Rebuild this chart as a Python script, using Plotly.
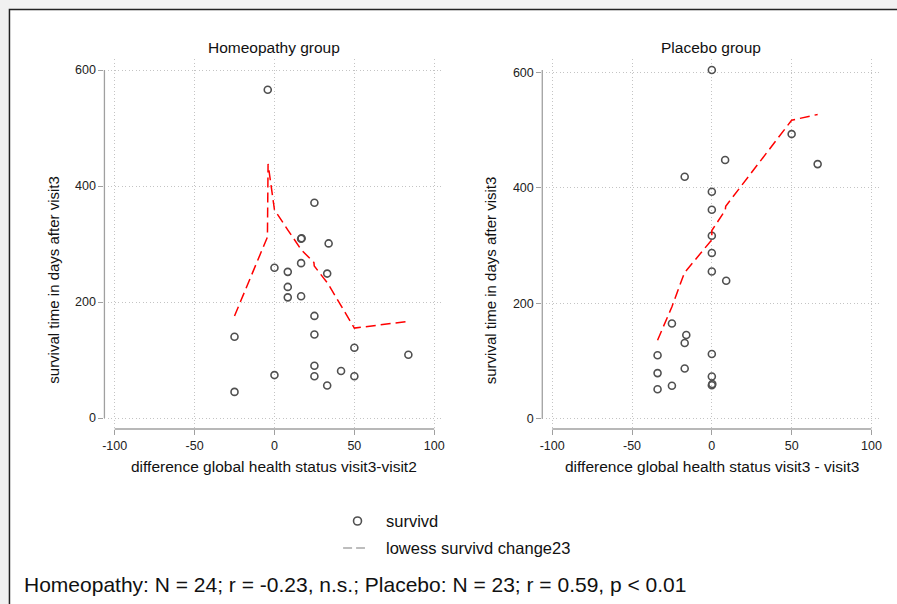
import plotly.graph_objects as go

# ---------------- data ----------------
homeo_change = [-25, -25, -4.2, 0, 0, 8.33, 8.33, 8.33, 16.67, 17.0, 16.67, 16.67,
                25, 25, 25, 25, 25, 33.9, 33.0, 33.0, 41.67, 50, 50, 83.8]
homeo_surv = [140, 45, 566, 259, 74, 252, 226, 208, 309, 310, 267, 210,
              371, 176, 144, 90, 72, 301, 249, 56, 81, 121, 72, 109]

placebo_change = [0, 0, 0, 0, 0, 0, 0, 0, 0, 0.3, 50, 8.33, 66.3,
                  -17.0, -17.0, -17.0, -16.0, 9.0, -25, -25, -34, -34, -34]
placebo_surv = [604, 393, 362, 317, 287, 255, 112, 73, 58, 60, 493, 448, 441,
                419, 131, 87, 145, 239, 165, 57, 110, 79, 51]

homeo_lowess_x = [-25, -4.4, -4.0, 0, 8.4, 16.8, 24.7, 24.9, 33.4, 50, 85]
homeo_lowess_y = [176, 312, 438, 359, 324, 290, 268, 262, 232, 155, 167]

placebo_lowess_x = [-34, -25, -17.0, -16.2, 0, 0, 8.4, 8.7, 50, 66.3]
placebo_lowess_y = [136, 194, 254, 256, 310, 326, 361, 368, 517, 527]

x_ticks = [-100, -50, 0, 50, 100]
x_tick_text = ["-100", "-50", "0", "50", "100"]
y_ticks = [0, 200, 400, 600]
y_tick_text = ["0", "200", "400", "600"]

panel_titles = ["Homeopathy group", "Placebo group"]
x_titles = ["difference global health status visit3-visit2",
            "difference global health status visit3 - visit3"]
y_title = "survival time in days after visit3"
legend_labels = ["survivd", "lowess survivd change23"]
caption = "Homeopathy: N = 24; r = -0.23, n.s.; Placebo: N = 23; r = 0.59, p < 0.01"

# ---------------- layout helpers ----------------
W, H = 897, 604
FONT = "Liberation Sans, Arial, sans-serif"


def PX(p):
    return p / W


def PY(p):
    return 1 - p / H


MARKER = dict(symbol="circle-open", size=7, color="#505050",
              line=dict(width=1.6, color="#505050"))
LOWESS = dict(color="#ff0000", width=1.5, dash="10px,5px")

fig = go.Figure()
fig.add_trace(go.Scatter(x=homeo_change, y=homeo_surv, mode="markers",
                         marker=MARKER, xaxis="x", yaxis="y", showlegend=False))
fig.add_trace(go.Scatter(x=homeo_lowess_x, y=homeo_lowess_y, mode="lines",
                         line=LOWESS, xaxis="x", yaxis="y", showlegend=False))
fig.add_trace(go.Scatter(x=placebo_change, y=placebo_surv, mode="markers",
                         marker=MARKER, xaxis="x2", yaxis="y2", showlegend=False))
fig.add_trace(go.Scatter(x=placebo_lowess_x, y=placebo_lowess_y, mode="lines",
                         line=LOWESS, xaxis="x2", yaxis="y2", showlegend=False))

grid = dict(showgrid=True, gridcolor="#c4c4c4", griddash="1px,2.5px", gridwidth=1,
            zeroline=False, showline=False, ticks="outside", ticklen=5,
            tickwidth=1.2, tickcolor="#a0a0a0",
            tickfont=dict(family=FONT, size=12.5, color="#222222"))

fig.update_layout(
    width=W, height=H, autosize=False,
    margin=dict(l=0, r=0, t=0, b=0),
    paper_bgcolor="#f1f1f1", plot_bgcolor="rgba(0,0,0,0)",
    showlegend=False,
    font=dict(family=FONT, color="#111111"),
    xaxis=dict(domain=[PX(102), PX(443)], range=[-106.4, 105.8],
               tickvals=x_ticks, ticktext=x_tick_text, anchor="y", **grid),
    yaxis=dict(domain=[PY(429), PY(59)], range=[-18.97, 618.97],
               tickvals=y_ticks, ticktext=y_tick_text, anchor="x", **grid),
    xaxis2=dict(domain=[PX(542.3), PX(881.7)], range=[-106.23, 105.23],
                tickvals=x_ticks, ticktext=x_tick_text, anchor="y2", **grid),
    yaxis2=dict(domain=[PY(429), PY(59)], range=[-17.84, 623.04],
                tickvals=y_ticks, ticktext=y_tick_text, anchor="x2", **grid),
)

shapes = []
# outer white frame with dark top/left border
shapes.append(dict(type="rect", xref="paper", yref="paper",
                   x0=PX(6.5), x1=PX(905), y0=PY(612), y1=PY(9.5),
                   fillcolor="white", line=dict(color="#222222", width=1.5),
                   layer="below"))
# axis lines (Stata style, detached)
for xa, ya, ytop in (("x", "y", 600), ("x2", "y2", 604)):
    shapes.append(dict(type="line", xref=xa + " domain", yref=ya,
                       x0=0, x1=0, y0=0, y1=ytop,
                       line=dict(color="#a0a0a0", width=1.3)))
    shapes.append(dict(type="line", xref=xa, yref=ya + " domain",
                       x0=-100, x1=100, y0=0, y1=0,
                       line=dict(color="#a0a0a0", width=1.3)))
# legend symbols
shapes.append(dict(type="circle", xref="paper", yref="paper",
                   x0=PX(352.5), x1=PX(360.5), y0=PY(525), y1=PY(517),
                   line=dict(color="#505050", width=1.6)))
shapes.append(dict(type="line", xref="paper", yref="paper",
                   x0=PX(342), x1=PX(364), y0=PY(548), y1=PY(548),
                   line=dict(color="#a8a8a8", width=1.6, dash="9px,4px")))

annotations = []
for t, cx in zip(panel_titles, (272.5, 712)):
    annotations.append(dict(text=t, x=PX(cx), y=PY(48), xref="paper", yref="paper",
                            xanchor="center", yanchor="middle", showarrow=False,
                            font=dict(family=FONT, size=15.5, color="#111111")))
for t, cx in zip(x_titles, (273, 713)):
    annotations.append(dict(text=t, x=PX(cx), y=PY(466), xref="paper", yref="paper",
                            xanchor="center", yanchor="middle", showarrow=False,
                            font=dict(family=FONT, size=15.5, color="#111111")))
for cx in (51, 491):
    annotations.append(dict(text=y_title, x=PX(cx), y=PY(280), xref="paper", yref="paper",
                            xanchor="center", yanchor="middle", showarrow=False,
                            textangle=-90,
                            font=dict(family=FONT, size=15, color="#111111")))
for t, cy in zip(legend_labels, (521, 548)):
    annotations.append(dict(text=t, x=PX(383), y=PY(cy), xref="paper", yref="paper",
                            xanchor="left", yanchor="middle", showarrow=False,
                            font=dict(family=FONT, size=16.5, color="#111111")))
annotations.append(dict(text=caption, x=PX(19), y=PY(584), xref="paper", yref="paper",
                        xanchor="left", yanchor="middle", showarrow=False,
                        font=dict(family=FONT, size=21, color="#111111")))

fig.update_layout(shapes=shapes, annotations=annotations)
fig.write_html("out.html")
